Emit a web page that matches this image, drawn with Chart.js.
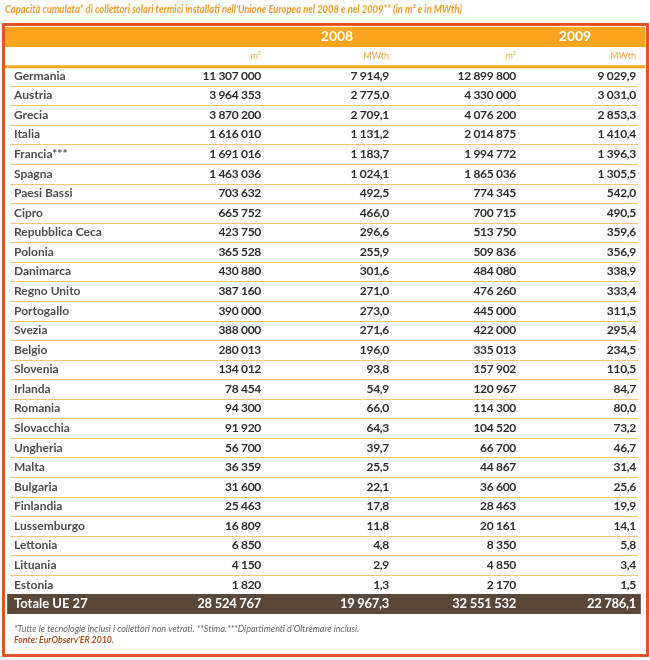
<!DOCTYPE html>
<html>
<head>
<meta charset="utf-8">
<script src="https://cdn.jsdelivr.net/npm/chart.js@4/dist/chart.umd.min.js"></script>
<style>
html,body{margin:0;padding:0;background:#fff;}
#wrap{width:650px;height:660px;}
</style>
</head>
<body>
<div id="wrap"><canvas id="c" width="650" height="660"></canvas></div>
<script>
const title = "Capacità cumulata* di collettori solari termici installati nell'Unione Europea nel 2008 e nel 2009** (in m² e in MWth)";
const years = ["2008", "2009"];
const units = ["m²", "MWth", "m²", "MWth"];
const countries = ["Germania","Austria","Grecia","Italia","Francia***","Spagna","Paesi Bassi","Cipro","Repubblica Ceca","Polonia","Danimarca","Regno Unito","Portogallo","Svezia","Belgio","Slovenia","Irlanda","Romania","Slovacchia","Ungheria","Malta","Bulgaria","Finlandia","Lussemburgo","Lettonia","Lituania","Estonia"];
const m2_2008 = [11307000,3964353,3870200,1616010,1691016,1463036,703632,665752,423750,365528,430880,387160,390000,388000,280013,134012,78454,94300,91920,56700,36359,31600,25463,16809,6850,4150,1820];
const mwth_2008 = [7914.9,2775.0,2709.1,1131.2,1183.7,1024.1,492.5,466.0,296.6,255.9,301.6,271.0,273.0,271.6,196.0,93.8,54.9,66.0,64.3,39.7,25.5,22.1,17.8,11.8,4.8,2.9,1.3];
const m2_2009 = [12899800,4330000,4076200,2014875,1994772,1865036,774345,700715,513750,509836,484080,476260,445000,422000,335013,157902,120967,114300,104520,66700,44867,36600,28463,20161,8350,4850,2170];
const mwth_2009 = [9029.9,3031.0,2853.3,1410.4,1396.3,1305.5,542.0,490.5,359.6,356.9,338.9,333.4,311.5,295.4,234.5,110.5,84.7,80.0,73.2,46.7,31.4,25.6,19.9,14.1,5.8,3.4,1.5];
const totalLabel = "Totale UE 27";
const totals = [28524767, 19967.3, 32551532, 22786.1];
const footnote = "*Tutte le tecnologie inclusi i collettori non vetrati. **Stima.***Dipartimenti d'Oltremare inclusi.";
const source = "Fonte: EurObserv'ER 2010.";

const rows = ["hdr", "sub", ...countries, totalLabel];
const colRight = [261, 389, 516, 636];
const yearCenter = [337, 575];

function fmt(v, dec) {
  let s = v.toFixed(dec);
  let [i, d] = s.split('.');
  i = i.replace(/\B(?=(\d{3})+(?!\d))/g, ' ');
  return d ? i + ',' + d : i;
}

const bandData = rows.map(r => r === 'hdr' ? [5, 645] : (r === totalLabel ? [7.5, 640.5] : null));
const bandColors = rows.map(r => r === 'hdr' ? '#f8a41f' : '#5a4737');

const tablePlugin = {
  id: 'tableText',
  beforeDraw(chart) {
    const ctx = chart.ctx;
    ctx.save();
    ctx.fillStyle = '#fff';
    ctx.fillRect(0, 0, chart.width, chart.height);
    ctx.restore();
  },
  afterDatasetsDraw(chart) {
    const ctx = chart.ctx;
    const y = chart.scales.y;
    const py = i => y.getPixelForValue(i);
    const half = (py(1) - py(0)) / 2;
    ctx.save();
    ctx.textBaseline = 'middle';
    ctx.textAlign = 'left';
    ctx.fillStyle = '#f39b2c';
    ctx.font = 'italic bold 11px Lato';
    ctx.fillText(title, 5, 9, 457);

    ctx.strokeStyle = '#f3c67a';
    ctx.lineWidth = 1;
    for (let i = 2; i < rows.length - 2; i++) {
      const yy = Math.round(py(i) + half) + 0.5;
      ctx.beginPath(); ctx.moveTo(10, yy); ctx.lineTo(638, yy); ctx.stroke();
    }
    ctx.strokeStyle = '#f5a623';
    ctx.lineWidth = 3;
    const yl = py(1) + half + 0.5;
    ctx.beginPath(); ctx.moveTo(5, yl); ctx.lineTo(645, yl); ctx.stroke();

    ctx.strokeStyle = '#e2532b';
    ctx.lineWidth = 3;
    ctx.strokeRect(3.5, 24.5, 644, 631);

    ctx.fillStyle = '#fff';
    ctx.font = 'bold 14px Lato';
    ctx.textAlign = 'center';
    years.forEach((yr, k) => ctx.fillText(yr, yearCenter[k], py(0)));
    ctx.fillStyle = '#f5a63a';
    ctx.font = '9px Lato';
    ctx.textAlign = 'right';
    units.forEach((u, k) => ctx.fillText(u, colRight[k], py(1)));

    const series = [[m2_2008, 0], [mwth_2008, 1], [m2_2009, 0], [mwth_2009, 1]];
    countries.forEach((c, i) => {
      const yy = py(i + 2);
      ctx.letterSpacing = '0px';
      ctx.textAlign = 'left';
      ctx.fillStyle = '#4d4d4d';
      ctx.font = 'bold 12px Lato';
      ctx.fillText(c, 14, yy);
      ctx.textAlign = 'right';
      ctx.fillStyle = '#2e2e2e';
      ctx.letterSpacing = '-0.3px';
      series.forEach(([arr, dec], k) => ctx.fillText(fmt(arr[i], dec), colRight[k], yy));
    });
    ctx.letterSpacing = '0px';
    const yt = py(rows.length - 1);
    ctx.fillStyle = '#fff';
    ctx.font = 'bold 13px Lato';
    ctx.textAlign = 'left';
    ctx.fillText(totalLabel, 14, yt);
    ctx.textAlign = 'right';
    ctx.letterSpacing = '-0.3px';
    totals.forEach((v, k) => ctx.fillText(fmt(v, k % 2 ? 1 : 0), colRight[k], yt));
    ctx.letterSpacing = '0px';

    ctx.textAlign = 'left';
    ctx.fillStyle = '#666';
    ctx.font = 'italic 9px Lato';
    ctx.fillText(footnote, 14, 629, 369);
    ctx.fillStyle = '#b4521c';
    ctx.font = 'italic bold 9px Lato';
    ctx.fillText(source, 14, 640, 100);
    ctx.restore();
  }
};

new Chart(document.getElementById('c'), {
  type: 'bar',
  data: {
    labels: rows,
    datasets: [{
      data: bandData,
      backgroundColor: bandColors,
      barPercentage: 1,
      categoryPercentage: 1,
      borderWidth: 0,
      borderSkipped: false
    }]
  },
  options: {
    indexAxis: 'y',
    responsive: false,
    animation: false,
    events: [],
    layout: { padding: { top: 27, bottom: 46, left: 0, right: 0 } },
    plugins: { legend: { display: false }, tooltip: { enabled: false }, title: { display: false } },
    scales: {
      x: { type: 'linear', min: 0, max: 650, display: false },
      y: { type: 'category', display: false, offset: true }
    }
  },
  plugins: [tablePlugin]
});
</script>
</body>
</html>
